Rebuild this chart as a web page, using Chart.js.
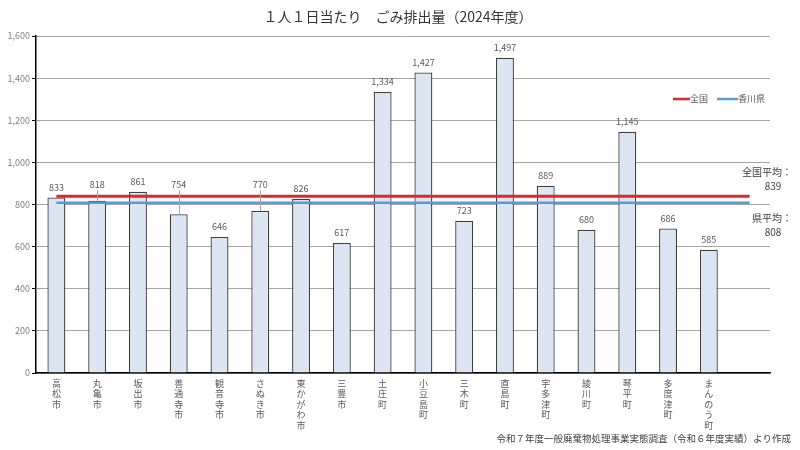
<!DOCTYPE html>
<html>
<head>
<meta charset="utf-8">
<script src="https://cdn.jsdelivr.net/npm/chart.js@4/dist/chart.umd.min.js"></script>
<style>
  body { margin: 0; background: #fff; }
  #wrap { width: 800px; height: 450px; }
</style>
</head>
<body>
<div id="wrap"><canvas id="gomiChart"></canvas></div>
<script>
const FONT = "'Noto Sans CJK JP', 'Noto Sans', sans-serif";

// data
const cities = ["高松市", "丸亀市", "坂出市", "善通寺市", "観音寺市", "さぬき市", "東かがわ市", "三豊市",
    "土庄町", "小豆島町", "三木町", "直島町", "宇多津町", "綾川町", "琴平町", "多度津町", "まんのう町", ""];
const amounts = [833, 818, 861, 754, 646, 770, 826, 617, 1334, 1427, 723, 1497, 889, 680, 1145, 686, 585, null];
const nationalAvg = 839;
const prefAvg = 808;
const yTicks = [0, 200, 400, 600, 800, 1000, 1200, 1400, 1600];

const RED = "#e3262b";
const BLUE = "#5b9bd5";

// labels stacked vertically, one character per line
const labels = cities.map(name => name.split(""));

// labels above bars, leader lines, legend, notes, title
const overlayPlugin = {
    id: "overlay",
    afterDatasetsDraw(chart) {
        const ctx = chart.ctx;
        const y = chart.scales.y;
        const redY = y.getPixelForValue(nationalAvg);
        const blueY = y.getPixelForValue(prefAvg);
        const meta = chart.getDatasetMeta(2);

        ctx.save();
        ctx.font = "9px " + FONT;
        ctx.textAlign = "center";
        ctx.textBaseline = "middle";
        meta.data.forEach((bar, i) => {
            const v = amounts[i];
            if (v == null) return;
            const top = bar.y;
            let ly = top - 10;
            // move labels that would sit on the average lines
            if (ly - 5 < blueY + 2 && ly + 5 > redY - 2) ly = redY - 12;
            if (ly < top - 14) {
                ctx.strokeStyle = "#a6a6a6";
                ctx.lineWidth = 1;
                ctx.beginPath();
                ctx.moveTo(Math.round(bar.x) + 0.5, ly + 6);
                ctx.lineTo(Math.round(bar.x) + 0.5, top);
                ctx.stroke();
            }
            ctx.fillStyle = "#595959";
            ctx.fillText(v.toLocaleString("en-US"), bar.x, ly);
        });
        ctx.restore();
    },
    afterDraw(chart) {
        const ctx = chart.ctx;
        const y = chart.scales.y;
        const redY = y.getPixelForValue(nationalAvg);
        const blueY = y.getPixelForValue(prefAvg);

        ctx.save();
        // title
        ctx.fillStyle = "#333";
        ctx.font = "14px " + FONT;
        ctx.textAlign = "center";
        ctx.textBaseline = "middle";
        ctx.fillText("１人１日当たり　ごみ排出量（2024年度）", 398, 17);

        // legend
        ctx.font = "9px " + FONT;
        ctx.textAlign = "left";
        const legY = 99;
        ctx.lineWidth = 2.5;
        ctx.strokeStyle = RED;
        ctx.beginPath(); ctx.moveTo(673, legY); ctx.lineTo(690, legY); ctx.stroke();
        ctx.fillStyle = "#595959";
        ctx.fillText("全国", 690, legY);
        ctx.strokeStyle = BLUE;
        ctx.beginPath(); ctx.moveTo(717, legY); ctx.lineTo(738, legY); ctx.stroke();
        ctx.fillText("香川県", 738, legY);

        // average notes
        ctx.fillStyle = "#404040";
        ctx.font = "10px " + FONT;
        ctx.textAlign = "right";
        ctx.fillText("全国平均：", 792, redY - 24);
        ctx.fillText("県平均：", 792, blueY + 15);
        ctx.textAlign = "center";
        ctx.fillText(String(nationalAvg), 773, redY - 10);
        ctx.fillText(String(prefAvg), 773, blueY + 29);

        // source
        ctx.font = "9.5px " + FONT;
        ctx.textAlign = "right";
        ctx.fillText("令和７年度一般廃棄物処理事業実態調査（令和６年度実績）より作成", 791, 438);
        ctx.restore();
    }
};

const ctx = document.getElementById("gomiChart").getContext("2d");

const gomiChart = new Chart(ctx, {
    data: {
        labels: labels,
        datasets: [
            {
                type: "line",
                label: "全国",
                data: cities.map(() => nationalAvg),
                borderColor: RED,
                borderWidth: 3,
                pointRadius: 0,
                order: 1
            },
            {
                type: "line",
                label: "香川県",
                data: cities.map(() => prefAvg),
                borderColor: BLUE,
                borderWidth: 2.5,
                pointRadius: 0,
                order: 2
            },
            {
                type: "bar",
                label: "排出量",
                data: amounts,
                backgroundColor: "#dce6f2",
                borderColor: "#404040",
                borderWidth: 1.3,
                categoryPercentage: 1,
                barPercentage: 0.44,
                order: 3
            }
        ]
    },
    options: {
        responsive: true,
        maintainAspectRatio: false,
        animation: false,
        layout: { padding: { top: 36, right: 30, left: 0, bottom: 0 } },
        scales: {
            x: {
                grid: { display: false, drawTicks: false },
                border: { color: "#000", width: 1.5 },
                ticks: {
                    color: "#595959",
                    font: { family: FONT, size: 9, lineHeight: 1.17 },
                    maxRotation: 0,
                    autoSkip: false,
                    padding: 5
                },
                afterFit(scale) { scale.height = 77; }
            },
            y: {
                min: 0,
                max: 1600,
                afterBuildTicks(scale) { scale.ticks = yTicks.map(v => ({ value: v })); },
                grid: { color: "#a6a6a6", tickColor: "#000", tickLength: 4 },
                border: { color: "#000", width: 1.5 },
                ticks: {
                    color: "#808080",
                    font: { family: FONT, size: 9 },
                    padding: 2,
                    callback: v => v.toLocaleString("en-US")
                },
                afterFit(scale) { scale.width = 36; }
            }
        },
        plugins: {
            legend: { display: false },
            tooltip: { enabled: false }
        }
    },
    plugins: [overlayPlugin]
});
</script>
</body>
</html>
